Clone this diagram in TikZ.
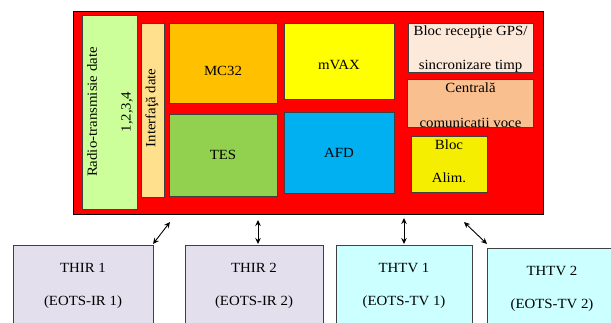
\documentclass[tikz,border=0pt]{standalone}
\usepackage{fontspec}
\usetikzlibrary{arrows.meta}
\setmainfont{Liberation Serif}[FakeStretch=1.06]
\begin{document}
\begin{tikzpicture}[x=1pt,y=-1pt,
  blk/.style={draw=black!75, line width=0.7pt},
  txt/.style={inner sep=0pt, font=\fontsize{14}{16}\selectfont},
  arr/.style={{Stealth[length=6pt,width=5.5pt]}-{Stealth[length=6pt,width=5.5pt]}, line width=0.9pt}]
\useasboundingbox (0,0) rectangle (611,322);
\definecolor{cred}{HTML}{FF0000}
\definecolor{cradio}{HTML}{CCFF99}
\definecolor{cintf}{HTML}{FFE08C}
\definecolor{cmc}{HTML}{FFC000}
\definecolor{ctes}{HTML}{92D050}
\definecolor{cvax}{HTML}{FFFF00}
\definecolor{cafd}{HTML}{00B0F0}
\definecolor{cgps}{HTML}{FDE9D9}
\definecolor{ccen}{HTML}{FABF8F}
\definecolor{calim}{HTML}{F5EE00}
\definecolor{cir}{HTML}{E4DFEC}
\definecolor{ctv}{HTML}{CCFFFF}
% main red box
\node[draw=black, line width=1pt, fill=cred, minimum width=470pt, minimum height=203pt, inner sep=0pt] (main) at (308,112.5) {};
% inner blocks
\node[blk, fill=cradio, minimum width=55pt, minimum height=194pt, inner sep=0pt] (radio) at (109.5,112) {};
\node[txt, rotate=90] (radiot) at (92,112) {Radio-transmisie date};
\node[txt, rotate=90] (radion) at (127,112) {1,2,3,4};
\node[blk, fill=cintf, minimum width=23pt, minimum height=174pt, inner sep=0pt] (intf) at (152.5,110) {};
\node[txt, rotate=90] (intft) at (152,108) {Interfaţă date};
\node[blk, fill=cmc, minimum width=108pt, minimum height=80pt, inner sep=0pt] (mc) at (223,63) {};
\node[txt] (mct) at (223,71) {MC32};
\node[blk, fill=ctes, minimum width=108pt, minimum height=82pt, inner sep=0pt] (tes) at (223,155) {};
\node[txt] (test) at (223,155) {TES};
\node[blk, fill=cvax, minimum width=110pt, minimum height=76pt, inner sep=0pt] (vax) at (339,61) {};
\node[txt] (vaxt) at (339,65) {mVAX};
\node[blk, fill=cafd, minimum width=110pt, minimum height=81pt, inner sep=0pt] (afd) at (339,152.5) {};
\node[txt] (afdt) at (339,153) {AFD};
\node[blk, fill=cgps, minimum width=125pt, minimum height=49pt, inner sep=0pt] (gps) at (470.5,47.5) {};
\node[txt] (gps1) at (470.5,32) {Bloc recepţie GPS/};
\node[txt] (gps2) at (470.5,66) {sincronizare timp};
\node[fill=ccen, minimum width=125pt, minimum height=47pt, inner sep=0pt] (cen) at (470.5,103.5) {};
\node[txt] (cen1) at (470.5,88) {Centrală};
\begin{scope}
\clip (408,80) rectangle (533,127);
\node[txt] (cen2) at (470.5,124.5) {comunicaţii voce};
\end{scope}
\draw[blk] (cen.north west) rectangle (cen.south east);
\node[blk, fill=calim, minimum width=76pt, minimum height=56pt, inner sep=0pt] (alim) at (449,164) {};
\node[txt] (alim1) at (449,145) {Bloc};
\node[txt] (alim2) at (449,178) {Alim.};
% bottom boxes
\node[blk, fill=cir, minimum width=140pt, minimum height=100pt, inner sep=0pt, anchor=north west] (ir1) at (13,245) {};
\node[txt] (ir1a) at (83,268) {THIR 1};
\node[txt] (ir1b) at (83,302) {(EOTS-IR 1)};
\node[blk, fill=cir, minimum width=138pt, minimum height=100pt, inner sep=0pt, anchor=north west] (ir2) at (185,245) {};
\node[txt] (ir2a) at (254,268) {THIR 2};
\node[txt] (ir2b) at (254,302) {(EOTS-IR 2)};
\node[blk, fill=ctv, minimum width=136pt, minimum height=100pt, inner sep=0pt, anchor=north west] (tv1) at (336,245) {};
\node[txt] (tv1a) at (404,268) {THTV 1};
\node[txt] (tv1b) at (404,302) {(EOTS-TV 1)};
\node[blk, fill=ctv, minimum width=140pt, minimum height=100pt, inner sep=0pt, anchor=north west] (tv2) at (487,248) {};
\node[txt] (tv2a) at (552,271) {THTV 2};
\node[txt] (tv2b) at (552,305) {(EOTS-TV 2)};
% connectors
\coordinate (a1s) at (170,222);
\coordinate (a1e) at (153,244);
\draw[arr] (a1s) -- (a1e);
\coordinate (a2s) at (258,220);
\coordinate (a2e) at (258,244);
\draw[arr] (a2s) -- (a2e);
\coordinate (a3s) at (404,218);
\coordinate (a3e) at (404,244);
\draw[arr] (a3s) -- (a3e);
\coordinate (a4s) at (464,222);
\coordinate (a4e) at (487,244);
\draw[arr] (a4s) -- (a4e);
\end{tikzpicture}
\end{document}
